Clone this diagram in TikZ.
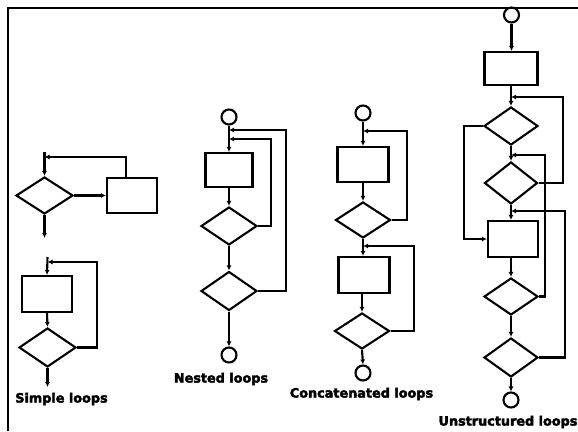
\documentclass[tikz,border=0pt]{standalone}
\usepackage{fontspec}
\setmainfont{DejaVu Sans}
\newfontfamily\lblfont{DejaVu Sans Bold}[FakeBold=3]
\usetikzlibrary{shapes.geometric,arrows.meta}
\begin{document}
\begin{tikzpicture}[x=1pt,y=-1pt,
  ln/.style={line width=2.1pt},
  arr/.style={ln,-{Latex[length=5pt,width=5pt]}},
  boxn/.style={draw,ln,rectangle,inner sep=0pt,minimum width=#1},
  boxn/.default=50pt,
  dia/.style={draw,ln,diamond,inner sep=0pt,minimum width=56pt,minimum height=38pt},
  term/.style={draw,ln,circle,inner sep=0pt,minimum size=15pt},
  lbl/.style={font=\fontsize{12.8}{14}\lblfont,inner sep=0pt}]
\useasboundingbox (0,0) rectangle (578,431);
\draw[line width=1.3pt] (8,431) -- (8,8) -- (578,8);

% ---------- Simple loops (top) ----------
\node[dia,minimum width=57pt,minimum height=37pt] (sd1) at (44.5,195.5) {};
\node[boxn,minimum height=35pt] (sr1) at (132,195.5) {};
\coordinate (sin1) at (44.5,152);
\coordinate (sj1) at (44.5,157);
\coordinate (sk1) at (126,157);
\coordinate (sout1) at (44.5,238);
\draw[arr] (sin1) -- (sd1.north);
\draw[arr] (sd1.east) -- (sr1.west);
\draw[arr] (sk1 |- sr1.north) -- (sk1) -- (sj1);
\draw[arr] (sd1.south) -- (sout1);

% ---------- Simple loops (bottom) ----------
\node[boxn,minimum height=36pt] (sr2) at (47,294) {};
\node[dia,minimum width=57pt,minimum height=39pt] (sd2) at (47.5,347.5) {};
\coordinate (sin2) at (47.5,257);
\coordinate (sj2) at (47.5,262);
\coordinate (sk2) at (97,262);
\coordinate (sout2) at (47.5,387);
\draw[arr] (sin2) -- (sr2.north);
\draw[arr] (sr2.south) -- (sd2.north);
\draw[arr] (sd2.east) -| (sk2) -- (sj2);
\draw[arr] (sd2.south) -- (sout2);
\node[lbl] (slbl) at (61.5,399) {Simple loops};

% ---------- Nested loops ----------
\node[term] (nc1) at (229,117) {};
\node[boxn,minimum width=47pt,minimum height=34pt] (nr1) at (229,170) {};
\node[dia] (nd1) at (229,226) {};
\node[dia,minimum height=39pt] (nd2) at (229,291) {};
\node[term] (nc2) at (229,355) {};
\coordinate (nj1) at (229,139);
\coordinate (nk1) at (271,139);
\coordinate (nj2) at (229,130);
\coordinate (nk2) at (286,130);
\draw[arr] (nc1) -- (nr1.north);
\draw[arr] (nr1.south) -- (nd1.north);
\draw[arr] (nd1.south) -- (nd2.north);
\draw[arr] (nd2.south) -- (nc2.north);
\draw[arr] (nd1.east) -| (nk1) -- (nj1);
\draw[arr] (nd2.east) -| (nk2) -- (nj2);
\node[lbl] (nlbl) at (221,379) {Nested loops};

% ---------- Concatenated loops ----------
\node[term] (cc1) at (363,113) {};
\node[boxn,minimum width=51pt,minimum height=35pt] (cr1) at (363,164.5) {};
\node[dia,minimum width=55pt,minimum height=36pt] (cd1) at (363,220) {};
\node[boxn,minimum width=51pt,minimum height=36pt] (cr2) at (364,275) {};
\node[dia,minimum width=55pt,minimum height=36pt] (cd2) at (362,331) {};
\node[term] (cc2) at (363,373) {};
\coordinate (cj1) at (363,131);
\coordinate (ck1) at (407,131);
\coordinate (cj2) at (363,246);
\coordinate (ck2) at (414,246);
\draw[arr] (cc1) -- (cr1.north);
\draw[arr] (cr1.south) -- (cd1.north);
\draw[arr] (cd1.south) -- (cr2.north -| cd1.south);
\draw[arr] (cr2.south -| cd2.north) -- (cd2.north);
\draw[arr] (cd2.south) -- (cc2.north);
\draw[arr] (cd1.east) -| (ck1) -- (cj1);
\draw[arr] (cd2.east) -| (ck2) -- (cj2);
\node[lbl] (clbl) at (361.5,394) {Concatenated loops};

% ---------- Unstructured loops ----------
\node[term] (uc1) at (511.5,15) {};
\node[boxn,minimum width=53pt,minimum height=33pt] (ur1) at (511,68.5) {};
\node[dia,minimum width=54pt,minimum height=38pt] (ud1) at (511,126) {};
\node[dia,minimum width=53pt,minimum height=42pt] (ud2) at (511,183) {};
\node[boxn,minimum width=50pt,minimum height=36pt] (ur2) at (513,239) {};
\node[dia,minimum width=54pt,minimum height=37pt] (ud3) at (511,296.5) {};
\node[dia,minimum width=54pt,minimum height=39pt] (ud4) at (511,357.5) {};
\node[term] (uc2) at (511,400) {};
\coordinate (uj1) at (511,97);
\coordinate (uk1) at (563,97);
\coordinate (uj2) at (511,155);
\coordinate (uk2) at (545,155);
\coordinate (uj3) at (511,211);
\coordinate (uk3) at (565,211);
\coordinate (ul1) at (464,126);
\draw[arr] (uc1) -- (ur1.north -| uc1);
\draw[arr] (ur1.south) -- (ud1.north);
\draw[arr] (ud1.south) -- (ud2.north);
\draw[arr] (ud2.south) -- (ur2.north -| ud2.south);
\draw[arr] (ur2.south -| ud3.north) -- (ud3.north);
\draw[arr] (ud3.south) -- (ud4.north);
\draw[arr] (ud4.south) -- (uc2.north);
\draw[arr] (ud1.west) -- (ul1) |- (ur2.west);
\draw[arr] (ud2.east) -| (uk1) -- (uj1);
\draw[arr] (ud3.east) -| (uk2) -- (uj2);
\draw[arr] (ud4.east) -| (uk3) -- (uj3);
\node[lbl] (ulbl) at (508,422) {Unstructured loops};
\end{tikzpicture}
\end{document}
